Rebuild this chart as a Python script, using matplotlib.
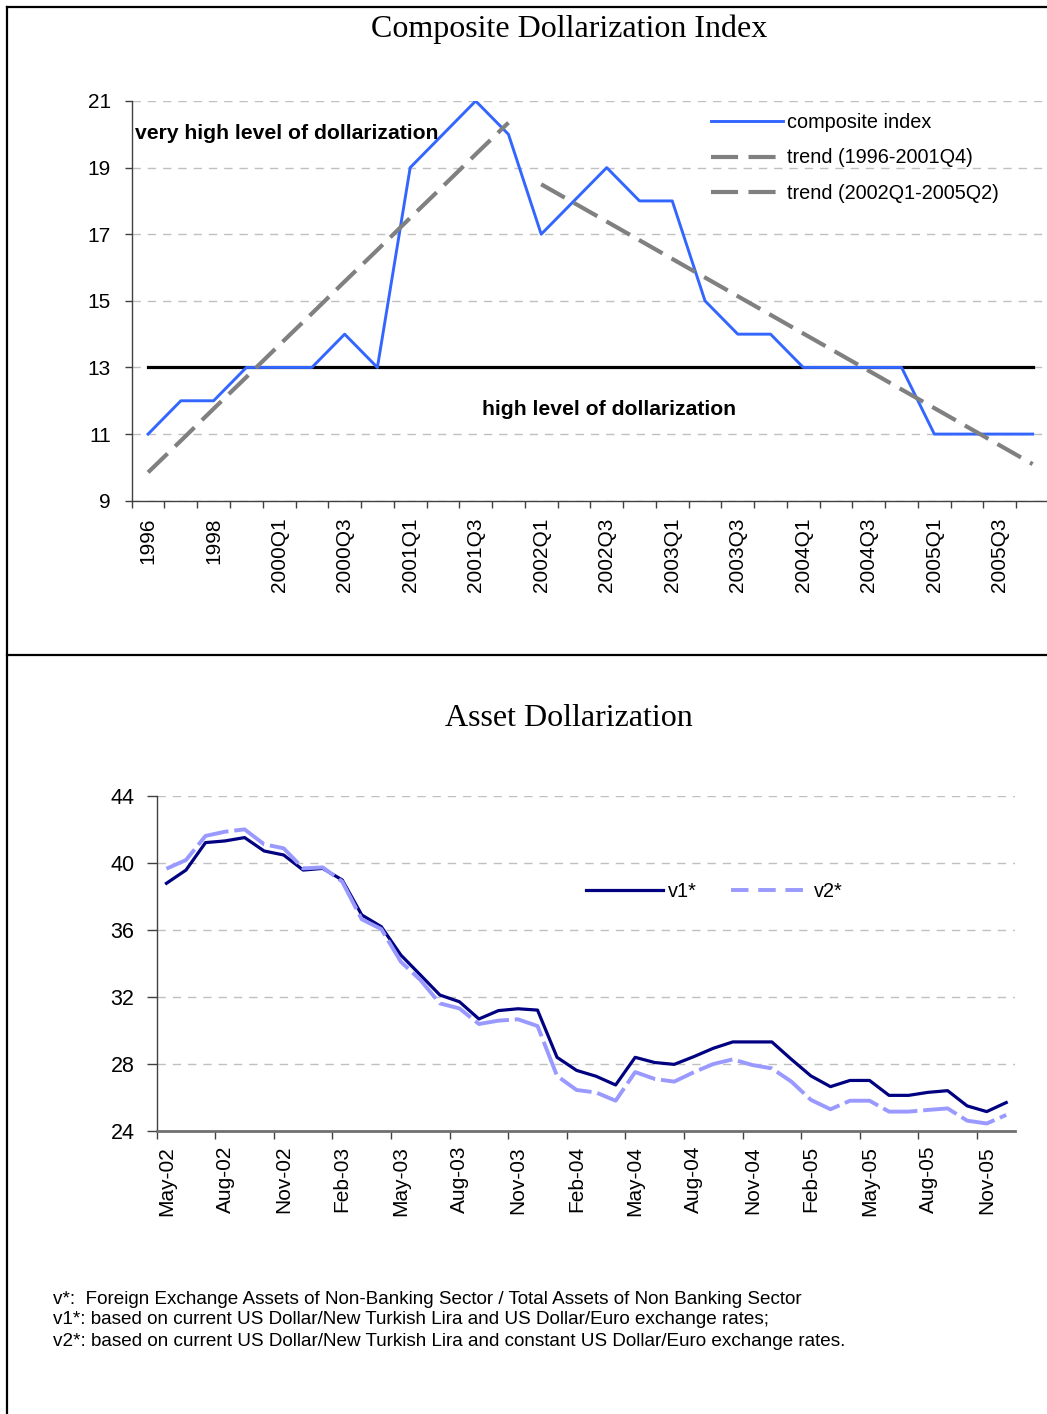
import matplotlib
matplotlib.use("Agg")
import matplotlib.pyplot as plt
from matplotlib.lines import Line2D
from matplotlib.ticker import FixedLocator

plt.rcParams['font.family'] = ['Liberation Sans', 'DejaVu Sans']

# ---------------- data: composite index ----------------
periods = ['1996', '1997', '1998', '1999',
           '2000Q1', '2000Q2', '2000Q3', '2000Q4',
           '2001Q1', '2001Q2', '2001Q3', '2001Q4',
           '2002Q1', '2002Q2', '2002Q3', '2002Q4',
           '2003Q1', '2003Q2', '2003Q3', '2003Q4',
           '2004Q1', '2004Q2', '2004Q3', '2004Q4',
           '2005Q1', '2005Q2', '2005Q3', '2005Q4']
composite = [11, 12, 12, 13, 13, 13, 14, 13, 19, 20, 21, 20,
             17, 18, 19, 18, 18, 15, 14, 14, 13, 13, 13, 13,
             11, 11, 11, 11]
trend1 = [9.85, 10.80, 11.76, 12.71, 13.67, 14.62, 15.58, 16.53,
          17.49, 18.44, 19.40, 20.35]            # 1996 .. 2001Q4
trend2 = [18.50, 17.94, 17.38, 16.82, 16.26, 15.70, 15.14, 14.58,
          14.02, 13.46, 12.90, 12.34, 11.78, 11.22, 10.66, 10.10]  # 2002Q1 .. 2005Q4
threshold = 13

# ---------------- data: asset dollarization ----------------
months = ['May-02', 'Jun-02', 'Jul-02', 'Aug-02', 'Sep-02', 'Oct-02', 'Nov-02', 'Dec-02',
          'Jan-03', 'Feb-03', 'Mar-03', 'Apr-03', 'May-03', 'Jun-03', 'Jul-03', 'Aug-03',
          'Sep-03', 'Oct-03', 'Nov-03', 'Dec-03', 'Jan-04', 'Feb-04', 'Mar-04', 'Apr-04',
          'May-04', 'Jun-04', 'Jul-04', 'Aug-04', 'Sep-04', 'Oct-04', 'Nov-04', 'Dec-04',
          'Jan-05', 'Feb-05', 'Mar-05', 'Apr-05', 'May-05', 'Jun-05', 'Jul-05', 'Aug-05',
          'Sep-05', 'Oct-05', 'Nov-05', 'Dec-05']
v1 = [38.77, 39.56, 41.20, 41.30, 41.50, 40.70, 40.46, 39.56, 39.66, 38.97,
      36.88, 36.18, 34.49, 33.30, 32.10, 31.70, 30.67, 31.17, 31.28, 31.20,
      28.38, 27.60, 27.25, 26.73, 28.38, 28.07, 27.96, 28.42, 28.92, 29.30,
      29.30, 29.30, 28.26, 27.27, 26.63, 27.00, 27.00, 26.11, 26.11, 26.29,
      26.39, 25.48, 25.14, 25.68]
v2 = [39.64, 40.16, 41.60, 41.85, 41.99, 41.10, 40.86, 39.66, 39.72, 38.87,
      36.62, 36.04, 34.09, 33.00, 31.60, 31.30, 30.37, 30.57, 30.65, 30.25,
      27.27, 26.43, 26.28, 25.79, 27.50, 27.09, 26.93, 27.49, 27.98, 28.26,
      27.92, 27.72, 26.93, 25.84, 25.28, 25.79, 25.79, 25.14, 25.14, 25.24,
      25.33, 24.60, 24.43, 24.94]

notes = ["v*:  Foreign Exchange Assets of Non-Banking Sector / Total Assets of Non Banking Sector",
         "v1*: based on current US Dollar/New Turkish Lira and US Dollar/Euro exchange rates;",
         "v2*: based on current US Dollar/New Turkish Lira and constant US Dollar/Euro exchange rates."]

W, H = 1047, 1414
fig = plt.figure(figsize=(W / 100, H / 100), dpi=100)

def fx(px):
    return px / W

def fy(py):
    return 1 - py / H

GRID = '#c0c0c0'
AXC = '#404040'
TICKFS = 15

# ================= top chart =================
ax1 = fig.add_axes([fx(131.7), fy(500.7), fx(1049 - 131.7), (500.7 - 101) / H])
x1 = list(range(len(periods)))
ax1.plot(x1, [threshold] * len(periods), color='black', lw=2.3, zorder=3)
ax1.plot(x1, composite, color='#3366FF', lw=2.1, zorder=4, label='composite index')
ax1.plot(x1[:len(trend1)], trend1, color='#808080', lw=3.0, dashes=(6.5, 2.5),
         zorder=5, label='trend (1996-2001Q4)')
ax1.plot(x1[len(trend1):len(trend1) + len(trend2)], trend2, color='#808080', lw=3.0,
         dashes=(6.5, 2.5), zorder=5, label='trend (2002Q1-2005Q2)')

ax1.set_xlim(-0.5, len(periods) - 0.5)
ax1.set_ylim(9, 21)
ax1.set_yticks(range(9, 22, 2))
ax1.yaxis.grid(True, color=GRID, lw=1.0, dashes=(6, 5))
ax1.set_axisbelow(True)
ax1.xaxis.set_major_locator(FixedLocator(x1[::2]))
ax1.set_xticklabels(periods[::2], rotation=90)
ax1.xaxis.set_minor_locator(FixedLocator([i - 0.5 for i in range(len(periods) + 1)]))
ax1.tick_params(axis='x', which='major', length=0, pad=12, labelsize=TICKFS)
ax1.tick_params(axis='x', which='minor', length=5, width=1, color=AXC, direction='out')
ax1.tick_params(axis='y', length=5, width=1, color=AXC, pad=10, labelsize=TICKFS)
for s in ['top', 'right']:
    ax1.spines[s].set_visible(False)
for s in ['left', 'bottom']:
    ax1.spines[s].set_color(AXC)
    ax1.spines[s].set_linewidth(1.0)

ax1.text(-0.4, 20.02, 'very high level of dollarization', fontsize=15.2,
         fontweight='bold', ha='left', va='center', zorder=6)
ax1.text(14.06, 11.75, 'high level of dollarization', fontsize=15.2,
         fontweight='bold', ha='center', va='center', zorder=6)

leg1 = ax1.legend(loc='upper left', bbox_to_anchor=(fx(711), fy(113)),
                  bbox_transform=fig.transFigure, frameon=False, fontsize=14.3,
                  handlelength=3.6, handletextpad=0.25, labelspacing=0.83,
                  borderpad=0, borderaxespad=0)

fig.text(fx(569), fy(29), 'Composite Dollarization Index', ha='center', va='center',
         fontsize=23, family='Liberation Serif')

# ================= bottom chart =================
ax2 = fig.add_axes([fx(156.7), fy(1130.7), fx(1015 - 156.7), (1130.7 - 795.7) / H])
x2 = list(range(len(months)))
ax2.plot(x2, v1, color='#000080', lw=2.3, zorder=4, label='v1*')
ax2.plot(x2, v2, color='#9999FF', lw=2.8, dashes=(9, 1.5), zorder=5, label='v2*')
ax2.set_xlim(-0.5, 43.45)
ax2.set_ylim(24, 44)
ax2.set_yticks(range(24, 45, 4))
ax2.yaxis.grid(True, color=GRID, lw=1.0, dashes=(6, 5))
ax2.set_axisbelow(True)
ax2.xaxis.set_major_locator(FixedLocator(x2[::3]))
ax2.set_xticklabels(months[::3], rotation=90)
ax2.xaxis.set_minor_locator(FixedLocator([i - 0.5 for i in range(0, len(months), 3)]))
ax2.tick_params(axis='x', which='major', length=0, pad=11, labelsize=TICKFS)
ax2.tick_params(axis='x', which='minor', length=6, width=1, color=AXC, direction='out')
ax2.tick_params(axis='y', length=7, width=1, color=AXC, pad=9, labelsize=15.5)
for s in ['top', 'right']:
    ax2.spines[s].set_visible(False)
ax2.spines['left'].set_color(AXC)
ax2.spines['left'].set_linewidth(1.0)
ax2.spines['bottom'].set_color('#707070')
ax2.spines['bottom'].set_linewidth(2.0)

h1 = Line2D([], [], color='#000080', lw=2.3)
h2 = Line2D([], [], color='#9999FF', lw=2.8, dashes=(4.5, 2.5))
ax2.legend([h1, h2], ['v1*', 'v2*'], loc='center left',
           bbox_to_anchor=(fx(586), fy(891)), bbox_transform=fig.transFigure,
           ncol=2, frameon=False, fontsize=14.3, handlelength=3.9, handletextpad=0.25,
           columnspacing=1.7, borderpad=0, borderaxespad=0)

fig.text(fx(569), fy(718.5), 'Asset Dollarization', ha='center', va='center',
         fontsize=23, family='Liberation Serif')

for i, t in enumerate(notes):
    fig.text(fx(53), fy(1299 + 21 * i), t, ha='left', va='center', fontsize=13.6)

# ================= frame =================
fig.add_artist(Line2D([fx(7), fx(7)], [fy(7), fy(1414)], color='black', lw=1.6,
                      transform=fig.transFigure))
fig.add_artist(Line2D([fx(7), fx(1047)], [fy(7), fy(7)], color='black', lw=1.6,
                      transform=fig.transFigure))
fig.add_artist(Line2D([fx(7), fx(1047)], [fy(654.5), fy(654.5)], color='black', lw=1.6,
                      transform=fig.transFigure))

fig.savefig('out.png', dpi=100)
